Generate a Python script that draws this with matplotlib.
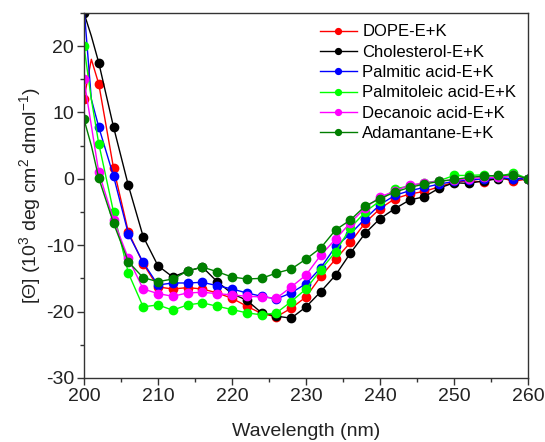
import numpy as np
import matplotlib
matplotlib.use('Agg')
import matplotlib.pyplot as plt
from matplotlib.ticker import MultipleLocator

plt.rcParams['font.family'] = ['Liberation Sans', 'DejaVu Sans']
plt.rcParams['mathtext.fontset'] = 'custom'
plt.rcParams['mathtext.rm'] = 'Liberation Sans'
plt.rcParams['mathtext.it'] = 'Liberation Sans:italic'
plt.rcParams['axes.unicode_minus'] = False

# wavelength (nm): 201 is only a line point, markers every 2 nm
wavelength = [200, 201] + list(range(202, 261, 2))

dope = [12, 18, 14.3, 1.6, -8.0, -12.8, -16.3, -16.6, -16.4, -16.6, -17.2, -18.0,
        -19.2, -20.3, -20.8, -19.5, -17.8, -14.7, -12.1, -9.6, -6.6, -4.5,
        -3.0, -2.3, -1.9, -1.2, -0.5, -0.3, -0.5, 0.3, -0.4, 0.0]
cholesterol = [25, 21.5, 17.5, 7.8, -1.0, -8.7, -13.1, -14.8, -13.9, -13.3, -15.5, -17.3,
               -18.3, -20.2, -20.7, -21.0, -19.3, -17.0, -14.5, -11.2, -8.2, -6.0,
               -4.5, -3.2, -2.7, -1.4, -0.6, -0.7, -0.3, 0.0, 0.0, 0.0]
palmitic = [26, 12, 7.8, 0.4, -8.3, -12.6, -16.0, -15.7, -15.7, -15.6, -16.1, -16.6,
            -17.2, -17.7, -18.1, -17.2, -15.8, -13.4, -10.2, -8.3, -6.0, -3.9,
            -2.5, -1.8, -1.3, -0.8, -0.4, -0.2, 0.0, 0.2, 0.0, 0.0]
palmitoleic = [20, 12, 5.3, -5.0, -14.2, -19.3, -19.0, -19.8, -19.0, -18.7, -19.2, -19.7,
               -20.2, -20.5, -20.2, -18.5, -16.6, -13.7, -11.0, -7.4, -5.0, -3.3,
               -1.5, -1.1, -0.6, -0.3, 0.5, 0.5, 0.6, 0.3, 0.9, 0.0]
decanoic = [15, 8, 1.0, -6.2, -12.0, -16.6, -17.3, -17.7, -17.2, -17.1, -17.3, -17.5,
            -17.7, -17.8, -18.0, -16.3, -14.5, -11.5, -9.1, -6.6, -4.4, -2.7,
            -1.9, -0.9, -0.7, -0.3, -0.2, 0.0, 0.2, 0.2, 0.5, 0.0]
adamantane = [9, 5, 0.1, -6.7, -12.5, -14.9, -15.5, -15.1, -13.9, -13.3, -14.0, -14.8,
              -15.1, -15.0, -14.2, -13.6, -12.1, -10.4, -7.7, -6.2, -4.1, -3.0,
              -2.0, -1.3, -0.8, -0.4, -0.1, 0.2, 0.4, 0.5, 0.6, 0.0]

series = [
    ('DOPE-E+K', dope, '#ff0000'),
    ('Cholesterol-E+K', cholesterol, '#000000'),
    ('Palmitic acid-E+K', palmitic, '#0000ff'),
    ('Palmitoleic acid-E+K', palmitoleic, '#00ff00'),
    ('Decanoic acid-E+K', decanoic, '#ff00ff'),
    ('Adamantane-E+K', adamantane, '#008000'),
]

mark_idx = [i for i, w in enumerate(wavelength) if w % 2 == 0]

fig = plt.figure(figsize=(5.45, 4.42), dpi=100)
ax = fig.add_axes([0.154, 0.145, 0.815, 0.826])

for name, vals, col in series:
    ax.plot(wavelength, vals, color=col, lw=1.0, marker='o', markersize=6,
            markevery=mark_idx, label=name)

ax.set_xlim(200, 260)
ax.set_ylim(-30, 25)
ax.xaxis.set_major_locator(MultipleLocator(10))
ax.xaxis.set_minor_locator(MultipleLocator(5))
ax.yaxis.set_major_locator(MultipleLocator(10))
ax.yaxis.set_minor_locator(MultipleLocator(5))
ax.tick_params(which='major', direction='out', length=5, width=1, labelsize=14,
               colors='#333333', labelcolor='#222222', pad=2)
ax.tick_params(which='minor', direction='out', length=3, width=1, colors='#333333')
ax.tick_params(top=False, right=False)
for sp in ax.spines.values():
    sp.set_linewidth(1.0)
    sp.set_color('#333333')

ax.set_xlabel('Wavelength (nm)', fontsize=14, labelpad=13, color='#222222')
ax.set_ylabel('[\u0398] (10$^{\\mathregular{3}}$ deg cm$^{\\mathregular{2}}$ dmol$^{\\mathregular{-1}}$)',
              fontsize=14, labelpad=2, color='#222222')

ax.legend(loc='upper right', frameon=False, fontsize=12, handlelength=2.2,
          handletextpad=0.35, labelspacing=0.32, borderaxespad=0.3, markerscale=0.7)

plt.savefig('out.png', dpi=100)
